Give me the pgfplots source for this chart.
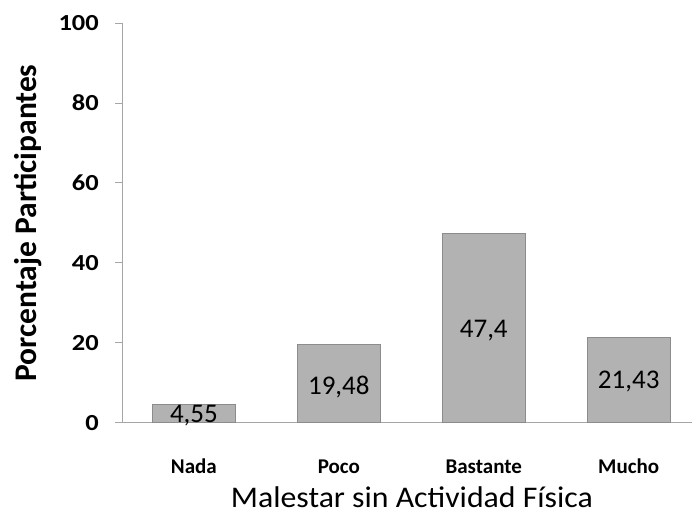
\documentclass[border=0pt]{standalone}
\usepackage{pgfplots}
\pgfplotsset{compat=1.18}
\usepackage{fontspec}
\setmainfont{Carlito}
\definecolor{barfill}{RGB}{178,178,178}
\definecolor{baredge}{RGB}{140,140,140}
\definecolor{axisgray}{RGB}{166,166,166}
\begin{document}
\begin{tikzpicture}
\begin{axis}[
  at={(0,0)}, anchor=south west,
  scale only axis, width=570pt, height=400pt,
  xmin=-0.4966, xmax=3.434, ymin=0, ymax=100,
  axis x line*=bottom, axis y line*=left,
  axis line style={axisgray, line width=0.8pt},
  ytick={0,20,40,60,80,100},
  xtick={0,1,2,3},
  xticklabels={Nada,Poco,Bastante,Mucho},
  xtick style={draw=none},
  ytick style={axisgray, line width=0.8pt},
  tick align=outside, major tick length=7pt,
  /pgf/number format/assume math mode=true,
  yticklabel style={font=\fontsize{23}{23}\selectfont\bfseries, anchor=east, inner sep=0pt, xshift=-16pt, xscale=1.15},
  xticklabel style={font=\fontsize{21}{21}\selectfont\bfseries, anchor=base, inner sep=0pt, yshift=-44pt},
  xlabel={Malestar sin Actividad Física},
  ylabel={Porcentaje Participantes},
  xlabel style={font=\fontsize{30}{30}\selectfont, at={(axis description cs:0.509,-0.213)}, anchor=base, inner sep=0pt, xscale=1.06},
  ylabel style={font=\fontsize{31.5}{31.5}\selectfont\bfseries, at={(axis description cs:-0.165,0.5)}, anchor=center},
  clip=false,
]
\addplot[ybar, bar width=83pt, bar shift=0pt, fill=barfill, draw=baredge, line width=1pt]
  coordinates {(0,4.55) (1,19.48) (2,47.4) (3,21.43)};
\addplot[draw=none, forget plot, nodes near coords, point meta=explicit symbolic,
  nodes near coords style={anchor=base, font=\fontsize{27}{27}\selectfont, inner sep=0pt}]
  coordinates {(0,0)[4,55] (1,7)[19,48] (2,21.25)[47,4] (3,8.5)[21,43]};
\end{axis}
\path[use as bounding box] (-122pt,-94pt) rectangle (570pt,423pt);
\end{tikzpicture}
\end{document}
